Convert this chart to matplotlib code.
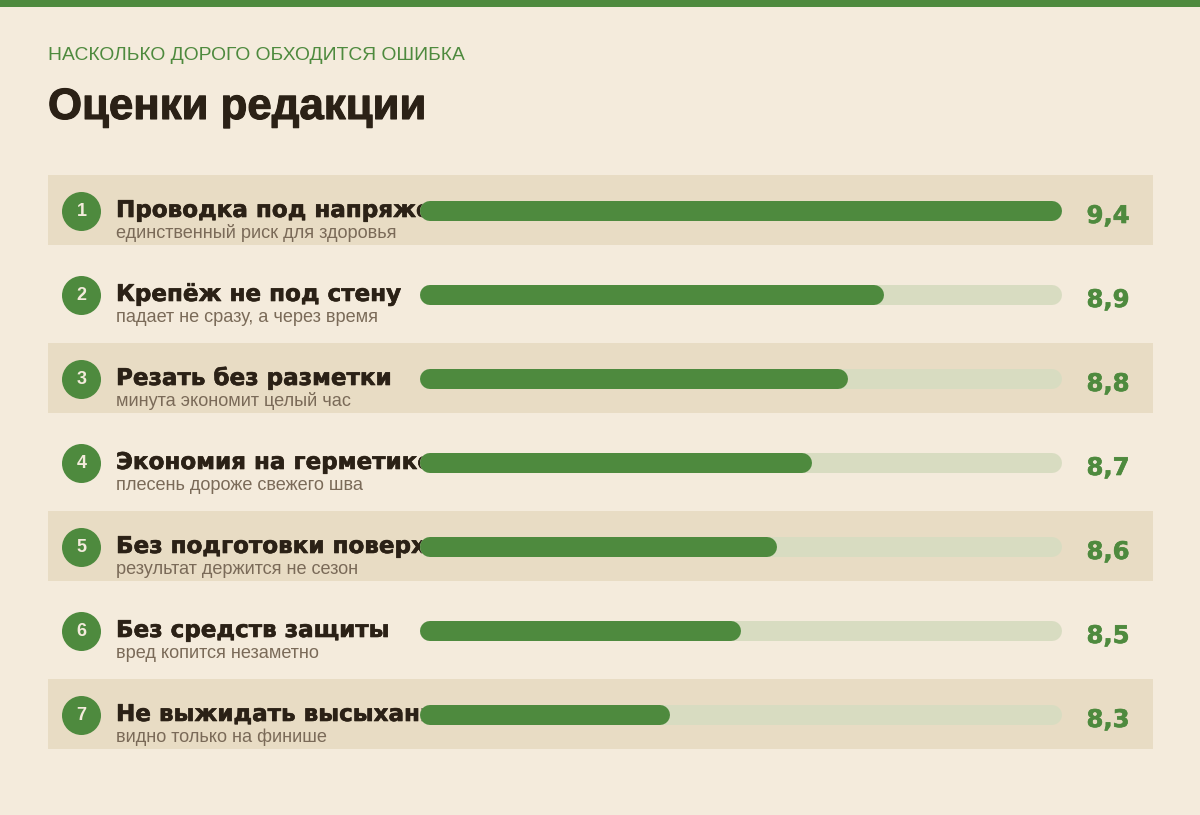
import matplotlib
matplotlib.use('Agg')
import matplotlib.pyplot as plt
import matplotlib.patheffects as pe
from matplotlib.patches import Rectangle, Circle

plt.rcParams['font.family'] = ['Liberation Sans', 'DejaVu Sans']

# data
titles = ['Проводка под напряжением', 'Крепёж не под стену', 'Резать без разметки',
          'Экономия на герметике', 'Без подготовки поверхности', 'Без средств защиты',
          'Не выжидать высыхание']
notes = ['единственный риск для здоровья', 'падает не сразу, а через время',
         'минута экономит целый час', 'плесень дороже свежего шва',
         'результат держится не сезон', 'вред копится незаметно',
         'видно только на финише']
scores = [9.4, 8.9, 8.8, 8.7, 8.6, 8.5, 8.3]
score_labels = ['9,4', '8,9', '8,8', '8,7', '8,6', '8,5', '8,3']

bg = '#f4ebdc'
shade = '#e8dcc4'
green = '#4e8a3e'
track = '#d8dcc1'
dark = '#2b2116'
grey = '#7a6a58'
wide = ['DejaVu Sans']


def thick(c, w=1.0):
    return [pe.withStroke(linewidth=w, foreground=c)]


W, H = 1200, 815
fig = plt.figure(figsize=(12, 8.15), dpi=100, facecolor=bg)
ax = fig.add_axes([0, 0, 1, 1])
ax.set_xlim(0, W)
ax.set_ylim(H, 0)
ax.axis('off')

ax.add_patch(Rectangle((0, 0), W, 7, color=green, lw=0))
ax.text(48, 55, 'НАСКОЛЬКО ДОРОГО ОБХОДИТСЯ ОШИБКА', color=green, fontsize=13.9,
        va='center', ha='left')
ax.text(48, 119, 'Оценки редакции', color=dark, fontsize=31.5, fontweight='bold',
        va='baseline', ha='left', path_effects=thick(dark, 0.8))

# bars in their own axes so they sit over the labels
bx0, bx1 = 420, 1062
bax = fig.add_axes([bx0 / W, 0, (bx1 - bx0) / W, 1])
bax.set_xlim(7.6, 9.4)
bax.set_ylim(H, 0)
bax.axis('off')
lw_px = 20
pad = (9.4 - 7.6) / (bx1 - bx0) * lw_px / 2

for i, (t, n, s, sl) in enumerate(zip(titles, notes, scores, score_labels)):
    yc = 210 + i * 84
    if i % 2 == 0:
        ax.add_patch(Rectangle((48, yc - 35), 1105, 70, color=shade, lw=0))
    ax.add_patch(Circle((81.5, yc + 1.5), 19.5, color=green, lw=0))
    ax.text(81.5, yc + 1.5, str(i + 1), color=bg, fontsize=13, fontweight='bold',
            ha='center', va='center')
    ax.text(116, yc + 7, t, color=dark, fontsize=16.6, fontweight='bold', family=wide,
            ha='left', va='baseline', path_effects=thick(dark, 0.45))
    ax.text(116, yc + 28, n, color=grey, fontsize=13.1, ha='left', va='baseline')
    ax.text(1108, yc + 13, sl, color=green, fontsize=17.5, fontweight='bold', family=wide,
            ha='center', va='baseline', path_effects=thick(green, 0.45))
    bax.plot([7.6 + pad, 9.4 - pad], [yc + 1, yc + 1], color=track, lw=lw_px * 0.72,
             solid_capstyle='round')
    bax.plot([7.6 + pad, s - pad], [yc + 1, yc + 1], color=green, lw=lw_px * 0.72,
             solid_capstyle='round')

fig.savefig('out.png', dpi=100, facecolor=bg)
